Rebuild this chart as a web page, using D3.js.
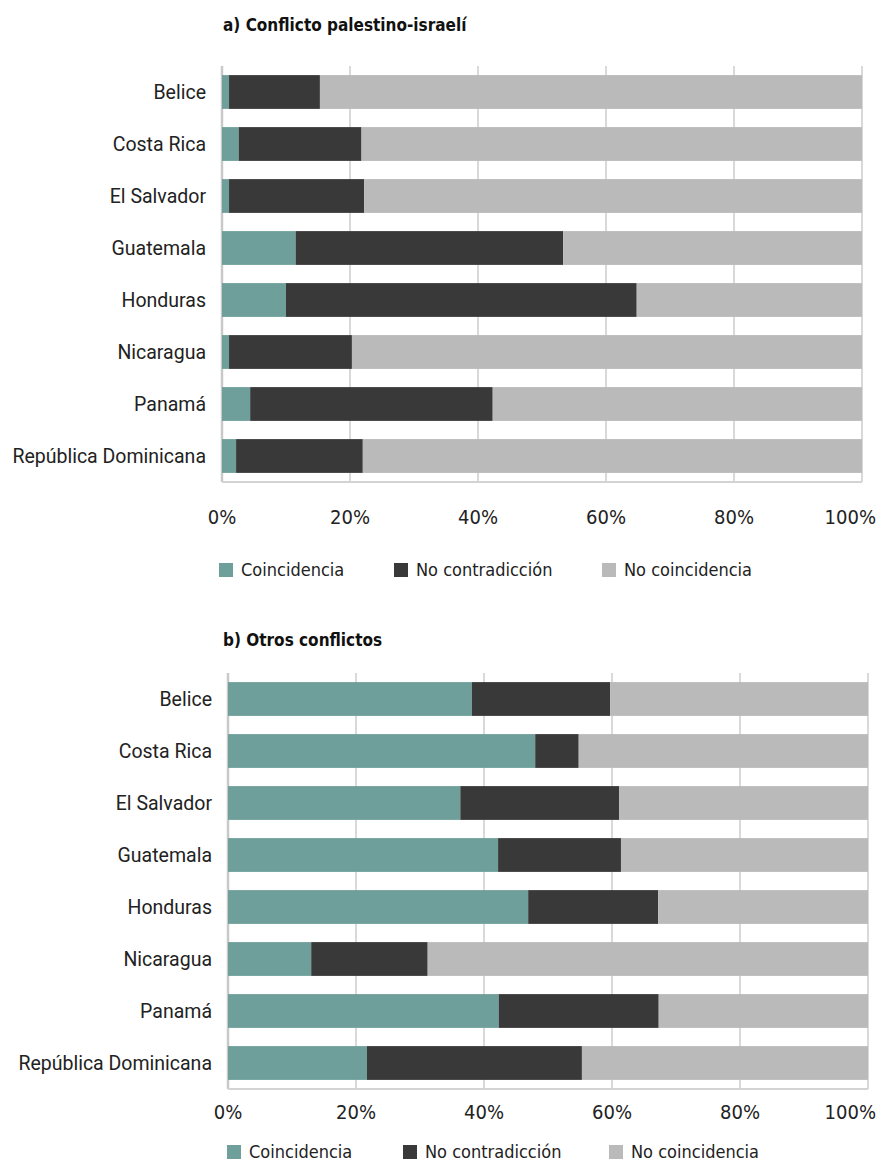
<!DOCTYPE html>
<html><head><meta charset="utf-8">
<script src="https://cdn.jsdelivr.net/npm/d3@7"></script>
<style>
body{margin:0;background:#fff;}
svg{display:block;}
.cond{font-family:"Liberation Sans Narrow","DejaVu Sans Condensed","Roboto Condensed",sans-serif;font-stretch:condensed;}
.lab{font-family:Roboto,"Noto Sans",sans-serif;}
</style>
</head><body>
<script>
const countries = ["Belice","Costa Rica","El Salvador","Guatemala","Honduras","Nicaragua","Panamá","República Dominicana"];
const seriesNames = ["Coincidencia","No contradicción","No coincidencia"];
const colors = ["#6e9f9a","#393939","#bababa"];
const tickValues = [0,20,40,60,80,100];
const tickLabels = ["0%","20%","40%","60%","80%","100%"];
const titles = ["a) Conflicto palestino-israelí","b) Otros conflictos"];

const coincA   = [1.1, 2.6, 1.1, 11.5, 10.0, 1.1, 4.4, 2.2];
const noContrA = [14.2, 19.2, 21.1, 41.8, 54.8, 19.2, 37.9, 19.8];
const noCoincA = [84.7, 78.2, 77.8, 46.7, 35.2, 79.7, 57.7, 78.0];

const coincB   = [38.1, 48.0, 36.3, 42.2, 46.9, 13.0, 42.3, 21.7];
const noContrB = [21.6, 6.8, 24.8, 19.2, 20.3, 18.2, 25.0, 33.6];
const noCoincB = [40.3, 45.2, 38.9, 38.6, 32.8, 68.8, 32.7, 44.7];

const W = 877;
const svg = d3.select("body").append("svg").attr("width",W).attr("height",1163);

const panels = [
  {title:titles[0], series:[coincA,noContrA,noCoincA], x0:222, x1:862, top:66, titleY:31, tickY:524, legY:570, legX:[219,394,602]},
  {title:titles[1], series:[coincB,noContrB,noCoincB], x0:228, x1:868, top:673, titleY:646, tickY:1119, legY:1152, legX:[227,403,609]}
];

panels.forEach(p=>{
  const rows = countries.map((c,i)=>({country:c, [seriesNames[0]]:p.series[0][i], [seriesNames[1]]:p.series[1][i], [seriesNames[2]]:p.series[2][i]}));
  const stack = d3.stack().keys(seriesNames)(rows);
  const x = d3.scaleLinear().domain([0,100]).range([p.x0,p.x1]);
  const y = d3.scaleBand().domain(countries).range([p.top,p.top+416]).paddingInner(0.35).paddingOuter(0.175);
  const bottom = p.top+416;
  const g = svg.append("g");

  g.append("text").attr("class","cond").attr("x",223).attr("y",p.titleY)
    .attr("font-size",17).attr("font-weight","bold").attr("fill","#111").text(p.title);

  // gridlines
  g.selectAll(".grid").data(tickValues).join("line")
    .attr("x1",d=>x(d)).attr("x2",d=>x(d)).attr("y1",p.top).attr("y2",bottom)
    .attr("stroke",d=>d===0?"#c9c9c9":"#d9d9d9").attr("stroke-width",d=>d===0?2.5:2);
  g.append("line").attr("x1",x(0)).attr("x2",x(100)).attr("y1",bottom).attr("y2",bottom)
    .attr("stroke","#d3d3d3").attr("stroke-width",2);

  // bars
  g.selectAll(".ser").data(stack).join("g").attr("fill",(d,i)=>colors[i])
    .selectAll("rect").data(d=>d).join("rect")
    .attr("x",d=>x(d[0])).attr("width",d=>x(d[1])-x(d[0]))
    .attr("y",d=>y(d.data.country)).attr("height",y.bandwidth());

  // y labels
  g.selectAll(".yl").data(countries).join("text").attr("class","lab")
    .attr("x",p.x0-16).attr("y",d=>y(d)+y.bandwidth()/2).attr("dy","0.35em")
    .attr("text-anchor","end").attr("font-size",19.5).attr("fill","#222").text(d=>d);

  // x tick labels (last one kept inside the page edge)
  g.selectAll(".xl").data(tickValues).join("text").attr("class","cond")
    .attr("x",d=>d===100?W-1:x(d)).attr("y",p.tickY).attr("text-anchor",d=>d===100?"end":"middle")
    .attr("font-size",20).attr("font-weight","500").attr("fill","#222").text((d,i)=>tickLabels[i]);

  // legend
  const lg = g.selectAll(".lg").data(seriesNames).join("g").attr("transform",(d,i)=>`translate(${p.legX[i]},${p.legY})`);
  lg.append("rect").attr("x",0).attr("y",-7).attr("width",14).attr("height",14).attr("fill",(d,i)=>colors[i]);
  lg.append("text").attr("class","cond").attr("x",22).attr("y",0).attr("dy","0.35em")
    .attr("font-size",18).attr("fill","#222").text(d=>d);
});
</script>
</body></html>
